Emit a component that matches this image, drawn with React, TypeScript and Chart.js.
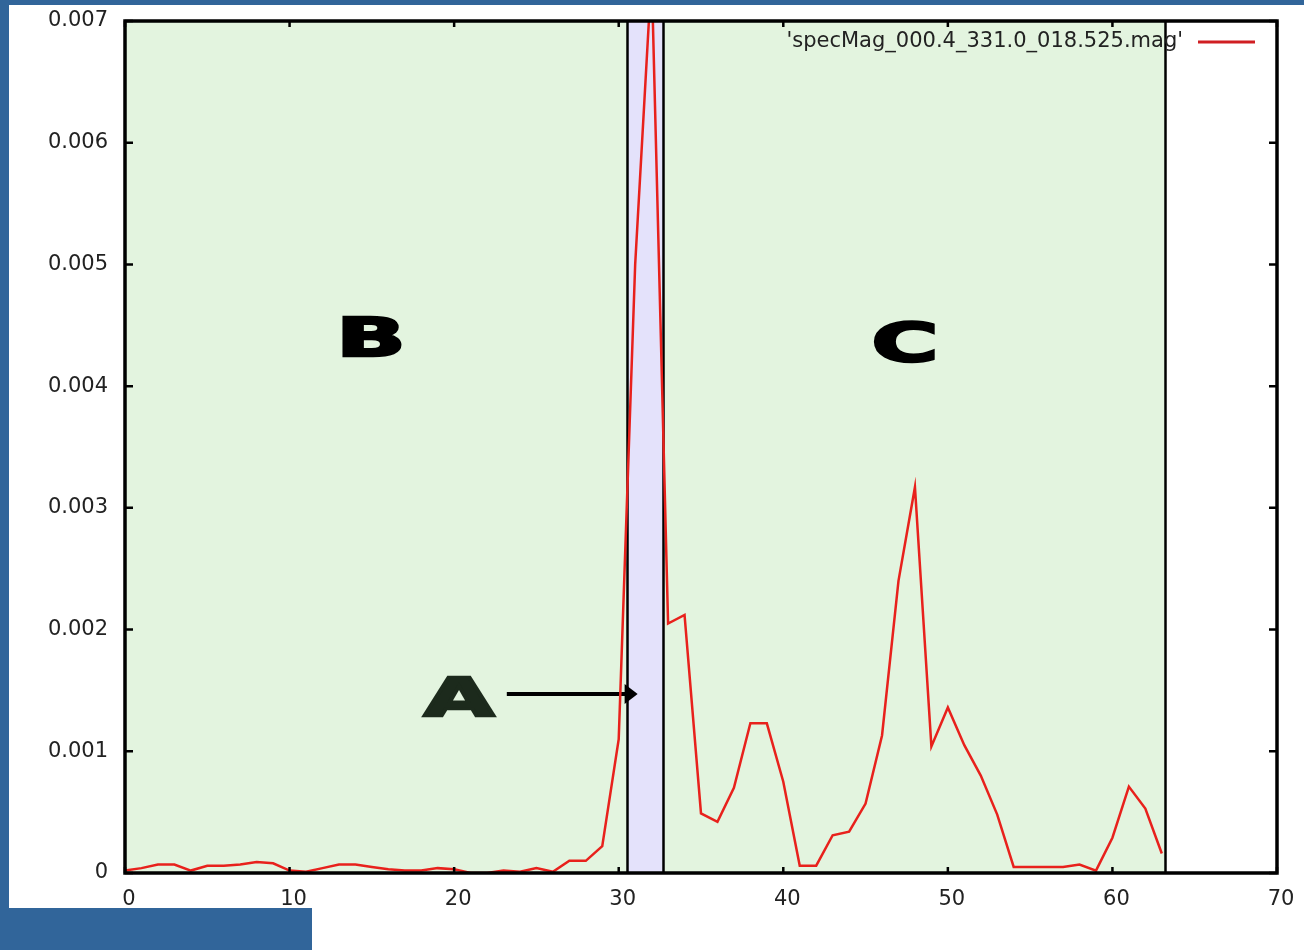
import React, { useEffect, useRef } from 'react';
import { Chart, registerables } from 'chart.js';

Chart.register(...registerables);

// ---- data ----
const xValues = [
  0, 1, 2, 3, 4, 5, 6, 7, 8, 9,
  10, 11, 12, 13, 14, 15, 16, 17, 18, 19,
  20, 21, 22, 23, 24, 25, 26, 27, 28, 29,
  30, 31, 32, 33, 34, 35, 36, 37, 38, 39,
  40, 41, 42, 43, 44, 45, 46, 47, 48, 49,
  50, 51, 52, 53, 54, 55, 56, 57, 58, 59,
  60, 61, 62, 63,
];
const magnitudes = [
  0.00002, 0.00004, 0.00007, 0.00007, 0.00002, 0.00006, 0.00006, 0.00007, 0.00009, 0.00008,
  0.00002, 0.00001, 0.00004, 0.00007, 0.00007, 0.00005, 0.00003, 0.00002, 0.00002, 0.00004,
  0.00003, 0.0, 0.0, 0.00002, 0.00001, 0.00004, 0.00001, 0.0001, 0.0001, 0.00022,
  0.0011, 0.005, 0.0074, 0.00205, 0.00212, 0.00049, 0.00042, 0.0007, 0.00123, 0.00123,
  0.00075, 0.00006, 0.00006, 0.00031, 0.00034, 0.00057, 0.00113, 0.0024, 0.00317, 0.00104,
  0.00136, 0.00105, 0.0008, 0.00048, 0.00005, 0.00005, 0.00005, 0.00005, 0.00007, 0.00002,
  0.00029, 0.00071, 0.00053, 0.00016,
];
const xTicks = [0, 10, 20, 30, 40, 50, 60, 70];
const yTicks = [0, 0.001, 0.002, 0.003, 0.004, 0.005, 0.006, 0.007];
const seriesLabel = "'specMag_000.4_331.0_018.525.mag'";

// shaded regions (x in data units)
const regionStarts = [0, 30.5, 32.7];
const regionEnds = [30.5, 32.7, 63.2];
const regionFills = ['#e3f4df', '#e4e2fb', '#e3f4df'];

// letter annotations (data units)
const letterNames = ['B', 'C', 'A'];
const letterX = [14.95, 47.4, 20.3];
const letterY = [0.00424, 0.0042, 0.00128];
const letterColors = ['#000000', '#000000', '#1c2a1c'];
const arrowX = [23.2, 31.15];
const arrowY = 0.00147;

const FONT = { family: '"DejaVu Sans", sans-serif', size: 21 };

const decorPlugin = {
  id: 'decor',
  beforeDatasetsDraw(chart: any) {
    const { ctx, chartArea } = chart;
    const xs = chart.scales.x;
    const { top, bottom } = chartArea;
    ctx.save();
    for (let i = 0; i < regionStarts.length; i++) {
      const a = xs.getPixelForValue(regionStarts[i]);
      const b = xs.getPixelForValue(regionEnds[i]);
      ctx.fillStyle = regionFills[i];
      ctx.fillRect(a, top, b - a, bottom - top);
    }
    ctx.strokeStyle = '#000';
    ctx.lineWidth = 2.5;
    for (let i = 0; i < regionEnds.length; i++) {
      const b = Math.round(xs.getPixelForValue(regionEnds[i])) + 0.5;
      ctx.beginPath();
      ctx.moveTo(b, top);
      ctx.lineTo(b, bottom);
      ctx.stroke();
    }
    // letters
    for (let i = 0; i < letterNames.length; i++) {
      const px = xs.getPixelForValue(letterX[i]);
      const py = chart.scales.y.getPixelForValue(letterY[i]);
      ctx.save();
      ctx.translate(px, py);
      ctx.scale(1.72, 1);
      ctx.font = 'bold 53px "DejaVu Sans", sans-serif';
      ctx.textAlign = 'center';
      ctx.textBaseline = 'alphabetic';
      ctx.fillStyle = letterColors[i];
      ctx.strokeStyle = letterColors[i];
      ctx.lineWidth = 2.5;
      ctx.lineJoin = 'miter';
      ctx.fillText(letterNames[i], 0, -1);
      ctx.strokeText(letterNames[i], 0, -1);
      ctx.restore();
    }
    // arrow
    const ax0 = xs.getPixelForValue(arrowX[0]);
    const ax1 = xs.getPixelForValue(arrowX[1]);
    const ay = chart.scales.y.getPixelForValue(arrowY);
    ctx.strokeStyle = '#000';
    ctx.lineWidth = 4;
    ctx.beginPath();
    ctx.moveTo(ax0, ay);
    ctx.lineTo(ax1 - 10, ay);
    ctx.stroke();
    ctx.fillStyle = '#000';
    ctx.beginPath();
    ctx.moveTo(ax1, ay);
    ctx.lineTo(ax1 - 13, ay - 10);
    ctx.lineTo(ax1 - 13, ay + 10);
    ctx.closePath();
    ctx.fill();
    ctx.restore();
  },
  afterDatasetsDraw(chart: any) {
    const { ctx, chartArea } = chart;
    const { left, right, top, bottom } = chartArea;
    const xs = chart.scales.x;
    const ys = chart.scales.y;
    ctx.save();
    ctx.strokeStyle = '#000';
    // inward tick marks
    ctx.lineWidth = 2.5;
    for (const v of yTicks) {
      const y = ys.getPixelForValue(v);
      ctx.beginPath();
      ctx.moveTo(left, y);
      ctx.lineTo(left + 8, y);
      ctx.moveTo(right, y);
      ctx.lineTo(right - 8, y);
      ctx.stroke();
    }
    for (const v of xTicks) {
      const x = xs.getPixelForValue(v);
      ctx.beginPath();
      ctx.moveTo(x, bottom);
      ctx.lineTo(x, bottom - 6);
      ctx.moveTo(x, top);
      ctx.lineTo(x, top + 6);
      ctx.stroke();
    }
    // frame
    ctx.lineWidth = 3.5;
    ctx.strokeRect(left, top, right - left, bottom - top);
    // legend
    const ly = top + 21;
    ctx.font = `${FONT.size}px ${FONT.family}`;
    ctx.fillStyle = '#222';
    ctx.textAlign = 'right';
    ctx.textBaseline = 'middle';
    ctx.fillText(seriesLabel, right - 94, ly);
    ctx.strokeStyle = '#d01e22';
    ctx.lineWidth = 3;
    ctx.beginPath();
    ctx.moveTo(right - 79, ly);
    ctx.lineTo(right - 22, ly);
    ctx.stroke();
    ctx.restore();
  },
};

export default function App() {
  const canvasRef = useRef<HTMLCanvasElement | null>(null);

  useEffect(() => {
    const canvas = canvasRef.current;
    if (!canvas) return;
    const chart = new Chart(canvas, {
      type: 'line',
      data: {
        datasets: [
          {
            label: seriesLabel,
            data: xValues.map((x, i) => ({ x, y: magnitudes[i] })),
            borderColor: '#e8211c',
            borderWidth: 2.5,
            pointRadius: 0,
            tension: 0,
            fill: false,
          },
        ],
      },
      options: {
        animation: false,
        responsive: false,
        devicePixelRatio: 1,
        layout: { padding: { left: 0, right: 27, top: 21, bottom: 0 } },
        plugins: { legend: { display: false }, tooltip: { enabled: false } },
        scales: {
          x: {
            type: 'linear',
            min: 0,
            max: 70,
            afterBuildTicks: (s: any) => {
              s.ticks = xTicks.map((v) => ({ value: v }));
            },
            afterFit: (s: any) => {
              s.height = 77;
              s.paddingLeft = 0;
              s.paddingRight = 0;
            },
            grid: { display: false, drawTicks: false },
            border: { display: false },
            ticks: {
              padding: 14,
              labelOffset: 4,
              maxRotation: 0,
              autoSkip: false,
              color: '#222',
              font: FONT,
              callback: (v: any) => String(v),
            },
          },
          y: {
            type: 'linear',
            min: 0,
            max: 0.007,
            afterBuildTicks: (s: any) => {
              s.ticks = yTicks.map((v) => ({ value: v }));
            },
            afterFit: (s: any) => {
              s.width = 125;
              s.paddingTop = 0;
              s.paddingBottom = 0;
            },
            grid: { display: false, drawTicks: false },
            border: { display: false },
            ticks: {
              padding: 17,
              autoSkip: false,
              color: '#222',
              font: FONT,
              callback: (v: any) => (Number(v) === 0 ? '0' : Number(v).toFixed(3)),
            },
          },
        },
      },
      plugins: [decorPlugin],
    });
    return () => chart.destroy();
  }, []);

  return (
    <div style={{ position: 'absolute', left: 0, top: 0, width: 1304, height: 950, background: '#31659a', overflow: 'hidden' }}>
      <div style={{ position: 'absolute', left: 9, top: 5, width: 1295, height: 945, background: '#ffffff' }} />
      <div style={{ position: 'absolute', left: 0, top: 908, width: 312, height: 42, background: '#31659a' }} />
      <canvas
        ref={canvasRef}
        width={1304}
        height={950}
        style={{ position: 'absolute', left: 0, top: 0, width: 1304, height: 950 }}
      />
    </div>
  );
}
